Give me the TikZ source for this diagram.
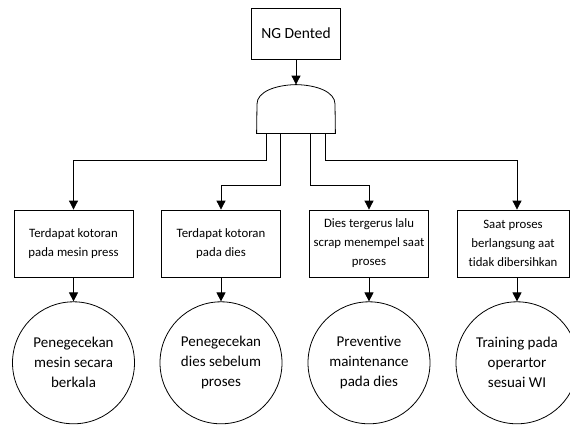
\documentclass[tikz,border=0pt]{standalone}
\usepackage{fontspec}
\setmainfont{Carlito}[Ligatures=NoCommon]
\usetikzlibrary{
    arrows.meta,
    positioning
}

\begin{document}
\begin{tikzpicture}[x=1pt,y=-1pt,
    line width=0.8pt,
    >={Triangle[width=9pt,length=9pt]},
    topbox/.style={draw,minimum width=89pt,minimum height=51pt,inner sep=0pt,
        font=\fontsize{15.5}{19}\selectfont},
    causebox/.style={draw,minimum width=119pt,minimum height=67pt,inner sep=0pt,
        align=center,font=\fontsize{12.8}{19}\selectfont},
    fixcircle/.style={draw,circle,minimum size=122pt,inner sep=0pt,
        align=center,font=\fontsize{15}{20}\selectfont},
    gatebox/.style={minimum width=78pt,minimum height=48pt,inner sep=0pt}
]
    \useasboundingbox (0,0) rectangle (570,426);

    \node[topbox] (top) at (296,33.5) {NG Dented};
    \node[gatebox] (gate) at (296,109) {};
    % and gate
    \draw (gate.south west) -- (257,104)
        .. controls (257,92) and (275,85) .. (gate.north)
        .. controls (317,85) and (335,92) .. (335,104)
        -- (gate.south east) -- cycle;
    \draw[->] (top) -- (gate.north);

    \node[causebox] (c1) at (73.5,243.5) {Terdapat kotoran\\pada mesin press};
    \node[causebox] (c2) at (221,243.5) {Terdapat kotoran\\pada dies};
    \node[causebox] (c3) at (369,243.5) {Dies tergerus lalu\\scrap menempel saat\\proses};
    \node[causebox,minimum width=112pt] (c4) at (513,243.5) {Saat proses\\berlangsung aat\\tidak dibersihkan};

    \node[fixcircle,below=24pt of c1] (s1) {Penegecekan\\mesin secara\\berkala};
    \node[fixcircle,below=24pt of c2] (s2) {Penegecekan\\dies sebelum\\proses};
    \node[fixcircle,below=24pt of c3] (s3) {Preventive\\maintenance\\pada dies};
    \node[fixcircle,below=24pt of c4,xshift=4pt] (s4) {Training pada\\operartor\\sesuai WI};

    \draw[->] ([xshift=-30pt]gate.south) -- ++(0,27) -| (c1.north);
    \draw[->] ([xshift=-16pt]gate.south) -- ++(0,52) -| (c2.north);
    \draw[->] ([xshift=14pt]gate.south) -- ++(0,52) -| (c3.north);
    \draw[->] ([xshift=29pt]gate.south) -- ++(0,27) -| ([xshift=4pt]c4.north);

    \foreach \i in {1,2,3}
        \draw[->] (c\i) -- (s\i);
    \draw[->] ([xshift=4pt]c4.south) -- (s4);
\end{tikzpicture}
\end{document}
